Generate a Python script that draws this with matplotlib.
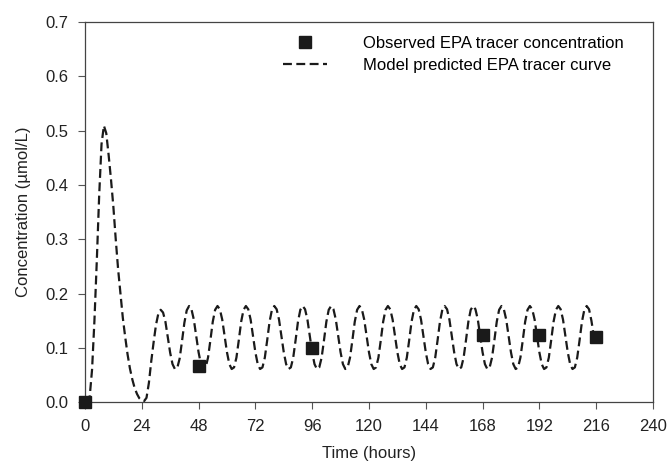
import numpy as np
import matplotlib
matplotlib.use('Agg')
import matplotlib.pyplot as plt

plt.rcParams['font.family'] = ['Liberation Sans', 'DejaVu Sans']

# observed tracer concentration (hours, umol/L)
obs_time = [0, 48, 96, 168, 192, 216]
obs_conc = [0.0, 0.066, 0.100, 0.124, 0.124, 0.120]

# model curve at 1 hour steps (0 .. 215 h)
model_conc = [
    0.000, 0.002, 0.010, 0.060, 0.150, 0.260, 0.380, 0.475, 0.509, 0.495, 0.455, 0.410,
    0.360, 0.300, 0.245, 0.200, 0.155, 0.120, 0.088, 0.062, 0.042, 0.026, 0.015, 0.007,
    0.003, 0.002, 0.008, 0.035, 0.075, 0.110, 0.142, 0.163, 0.170, 0.165, 0.148, 0.120,
    0.091, 0.070, 0.061, 0.063, 0.080, 0.112, 0.146, 0.169, 0.177, 0.171, 0.152, 0.122,
    0.092, 0.070, 0.061, 0.064, 0.082, 0.114, 0.148, 0.170, 0.177, 0.171, 0.152, 0.122,
    0.092, 0.070, 0.061, 0.064, 0.082, 0.114, 0.148, 0.170, 0.177, 0.171, 0.152, 0.122,
    0.092, 0.070, 0.061, 0.064, 0.082, 0.114, 0.148, 0.170, 0.177, 0.171, 0.152, 0.122,
    0.092, 0.070, 0.061, 0.064, 0.082, 0.114, 0.148, 0.170, 0.177, 0.171, 0.152, 0.122,
    0.092, 0.070, 0.061, 0.064, 0.082, 0.114, 0.148, 0.170, 0.177, 0.171, 0.152, 0.122,
    0.092, 0.070, 0.061, 0.064, 0.082, 0.114, 0.148, 0.170, 0.177, 0.171, 0.152, 0.122,
    0.092, 0.070, 0.061, 0.064, 0.082, 0.114, 0.148, 0.170, 0.177, 0.171, 0.152, 0.122,
    0.092, 0.070, 0.061, 0.064, 0.082, 0.114, 0.148, 0.170, 0.177, 0.171, 0.152, 0.122,
    0.092, 0.070, 0.061, 0.064, 0.082, 0.114, 0.148, 0.170, 0.177, 0.171, 0.152, 0.122,
    0.092, 0.070, 0.061, 0.064, 0.082, 0.114, 0.148, 0.170, 0.177, 0.171, 0.152, 0.122,
    0.092, 0.070, 0.061, 0.064, 0.082, 0.114, 0.148, 0.170, 0.177, 0.171, 0.152, 0.122,
    0.092, 0.070, 0.061, 0.064, 0.082, 0.114, 0.148, 0.170, 0.177, 0.171, 0.152, 0.122,
    0.092, 0.070, 0.061, 0.064, 0.082, 0.114, 0.148, 0.170, 0.177, 0.171, 0.152, 0.122,
    0.092, 0.070, 0.061, 0.064, 0.082, 0.114, 0.148, 0.170, 0.177, 0.171, 0.150, 0.122,
]
model_time = np.arange(len(model_conc))

x_ticks = [0, 24, 48, 72, 96, 120, 144, 168, 192, 216, 240]
y_ticks = [0.0, 0.1, 0.2, 0.3, 0.4, 0.5, 0.6, 0.7]

fig = plt.figure(figsize=(6.69, 4.66), dpi=100)
ax = fig.add_axes([0.127, 0.137, 0.849, 0.816])

ax.plot(obs_time, obs_conc, 's', color='#1a1a1a', markersize=8, clip_on=False,
        zorder=4, label='Observed EPA tracer concentration')
ax.plot(model_time, model_conc, color='#1a1a1a', lw=1.6, dashes=(4, 2),
        label='Model predicted EPA tracer curve')

ax.set_xlim(0, 240)
ax.set_ylim(0, 0.7)
ax.set_xticks(x_ticks)
ax.set_yticks(y_ticks)
ax.set_yticklabels(['%.1f' % v for v in y_ticks])
ax.tick_params(direction='out', length=5, width=0.8, color='#555555',
               labelsize=12, labelcolor='#222222', pad=7)
for s in ax.spines.values():
    s.set_color('#444444')
    s.set_linewidth(0.9)

ax.set_xlabel('Time (hours)', fontsize=12, color='#222222', labelpad=9)
ax.set_ylabel('Concentration (µmol/L)', fontsize=12, color='#222222', labelpad=10)

ax.legend(loc='upper left', bbox_to_anchor=(0.349, 0.964), frameon=False,
          fontsize=12, handlelength=2.6, handletextpad=2.2, labelspacing=0.45,
          borderaxespad=0, borderpad=0)

fig.savefig('out.png', dpi=100)
